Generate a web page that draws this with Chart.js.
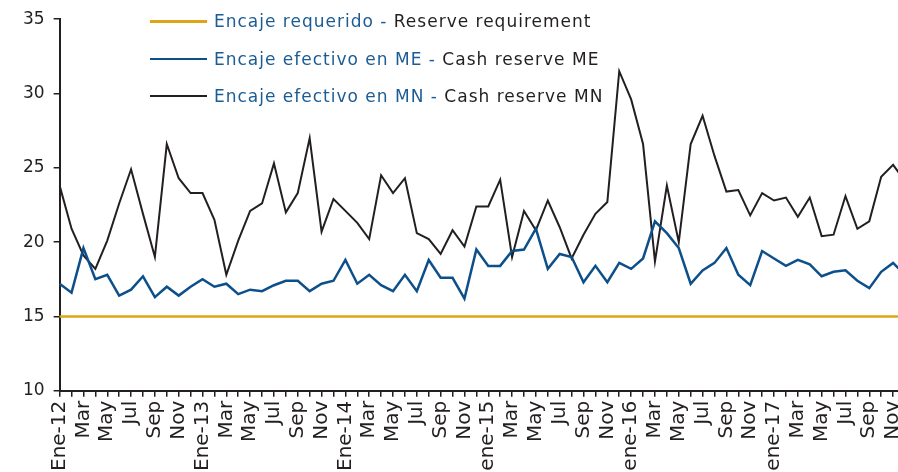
<!DOCTYPE html>
<html>
<head>
<meta charset="utf-8">
<script src="https://cdn.jsdelivr.net/npm/chart.js@4.4.1/dist/chart.umd.min.js"></script>
<style>
  body { margin: 0; overflow: hidden; background: #fff; }
  #wrap { position: relative; width: 933px; height: 475px; }
  .legend { position: absolute; left: 150px; top: 0; font-family: 'DejaVu Sans', sans-serif; font-size: 17px; letter-spacing: 1px; white-space: nowrap; }
  .legend .row { position: absolute; left: 0; height: 20px; display: flex; align-items: center; }
  .legend .swatch { display: inline-block; width: 57px; margin-right: 7px; }
  .legend .es { color: #1b5c94; }
  .legend .en { color: #231f20; }
</style>
</head>
<body>
<div id="wrap">
  <canvas id="chart"></canvas>
  <div class="legend">
    <div class="row" style="top:11px"><span class="swatch" style="height:3px;background:#dfa516"></span><span class="es">Encaje requerido -&nbsp;</span><span class="en">Reserve requirement</span></div>
    <div class="row" style="top:49px"><span class="swatch" style="height:2px;background:#0c4f8a"></span><span class="es">Encaje efectivo en ME -&nbsp;</span><span class="en">Cash reserve ME</span></div>
    <div class="row" style="top:86px"><span class="swatch" style="height:2px;background:#231f20"></span><span class="es">Encaje efectivo en MN -&nbsp;</span><span class="en">Cash reserve MN</span></div>
  </div>
</div>
<script>
// Months Jan-2012 .. Dec-2017 (only every other label is shown)
const months = [
  'Ene-12', 'Feb', 'Mar', 'Abr', 'May', 'Jun', 'Jul', 'Ago', 'Sep', 'Oct', 'Nov', 'Dic',
  'Ene-13', 'Feb', 'Mar', 'Abr', 'May', 'Jun', 'Jul', 'Ago', 'Sep', 'Oct', 'Nov', 'Dic',
  'Ene-14', 'Feb', 'Mar', 'Abr', 'May', 'Jun', 'Jul', 'Ago', 'Sep', 'Oct', 'Nov', 'Dic',
  'ene-15', 'Feb', 'Mar', 'Abr', 'May', 'Jun', 'Jul', 'Ago', 'Sep', 'Oct', 'Nov', 'Dic',
  'ene-16', 'Feb', 'Mar', 'Abr', 'May', 'Jun', 'Jul', 'Ago', 'Sep', 'Oct', 'Nov', 'Dic',
  'ene-17', 'Feb', 'Mar', 'Abr', 'May', 'Jun', 'Jul', 'Ago', 'Sep', 'Oct', 'Nov', 'Dic'
];

// Encaje requerido - Reserve requirement (%)
const requerido = [
  15, 15, 15, 15, 15, 15, 15, 15, 15, 15, 15, 15,
  15, 15, 15, 15, 15, 15, 15, 15, 15, 15, 15, 15,
  15, 15, 15, 15, 15, 15, 15, 15, 15, 15, 15, 15,
  15, 15, 15, 15, 15, 15, 15, 15, 15, 15, 15, 15,
  15, 15, 15, 15, 15, 15, 15, 15, 15, 15, 15, 15,
  15, 15, 15, 15, 15, 15, 15, 15, 15, 15, 15, 15
];

// Encaje efectivo en ME - Cash reserve ME (%)
const efectivoME = [
  17.2, 16.6, 19.6, 17.5, 17.8, 16.4, 16.8, 17.7, 16.3, 17.0, 16.4, 17.0,
  17.5, 17.0, 17.2, 16.5, 16.8, 16.7, 17.1, 17.4, 17.4, 16.7, 17.2, 17.4,
  18.8, 17.2, 17.8, 17.1, 16.7, 17.8, 16.7, 18.8, 17.6, 17.6, 16.2, 19.5,
  18.4, 18.4, 19.4, 19.5, 20.9, 18.2, 19.2, 19.0, 17.3, 18.4, 17.3, 18.6,
  18.2, 18.9, 21.4, 20.6, 19.6, 17.2, 18.1, 18.6, 19.6, 17.8, 17.1, 19.4,
  18.9, 18.4, 18.8, 18.5, 17.7, 18.0, 18.1, 17.4, 16.9, 18.0, 18.6, 17.8
];

// Encaje efectivo en MN - Cash reserve MN (%)
const efectivoMN = [
  23.8, 20.9, 19.1, 18.2, 20.1, 22.6, 24.9, 21.9, 19.0, 26.6, 24.3, 23.3,
  23.3, 21.5, 17.8, 20.1, 22.1, 22.6, 25.3, 22.0, 23.3, 27.0, 20.7, 22.9,
  22.1, 21.3, 20.2, 24.5, 23.3, 24.3, 20.6, 20.2, 19.2, 20.8, 19.7, 22.4,
  22.4, 24.2, 19.0, 22.1, 20.8, 22.8, 21.0, 18.9, 20.5, 21.9, 22.7, 31.5,
  29.6, 26.6, 18.7, 23.8, 20.0, 26.6, 28.5, 25.8, 23.4, 23.5, 21.8, 23.3,
  22.8, 23.0, 21.7, 23.0, 20.4, 20.5, 23.1, 20.9, 21.4, 24.4, 25.2, 24.1
];

const axisColor = '#231f20';
const fontFamily = "'DejaVu Sans', sans-serif";

const ctx = document.getElementById('chart').getContext('2d');
new Chart(ctx, {
    type: 'line',
    data: {
        labels: months,
        datasets: [
            {
                label: 'Encaje requerido - Reserve requirement',
                data: requerido,
                borderColor: '#dfa516',
                borderWidth: 2.5,
                pointRadius: 0,
                tension: 0
            },
            {
                label: 'Encaje efectivo en ME - Cash reserve ME',
                data: efectivoME,
                borderColor: '#0c4f8a',
                borderWidth: 2.5,
                pointRadius: 0,
                tension: 0
            },
            {
                label: 'Encaje efectivo en MN - Cash reserve MN',
                data: efectivoMN,
                borderColor: '#231f20',
                borderWidth: 2,
                pointRadius: 0,
                tension: 0
            }
        ]
    },
    options: {
        responsive: true,
        maintainAspectRatio: false,
        animation: false,
        layout: { padding: { left: 14, top: 3, right: 0, bottom: 0 } },
        plugins: {
            legend: { display: false },
            tooltip: { enabled: false }
        },
        scales: {
            x: {
                grid: { drawOnChartArea: false, drawTicks: true, tickLength: 6, color: axisColor, lineWidth: 1.5 },
                border: { display: true, color: axisColor, width: 2 },
                ticks: {
                    autoSkip: false,
                    maxRotation: 90,
                    minRotation: 90,
                    padding: 4,
                    color: axisColor,
                    font: { family: fontFamily, size: 20 },
                    callback: function (value, index) {
                        return index % 2 === 0 ? this.getLabelForValue(value) : '';
                    }
                }
            },
            y: {
                min: 10,
                max: 35,
                grid: { drawOnChartArea: false, drawTicks: true, tickLength: 6, color: axisColor, lineWidth: 1.5 },
                border: { display: true, color: axisColor, width: 2 },
                ticks: {
                    stepSize: 5,
                    padding: 9,
                    color: axisColor,
                    font: { family: fontFamily, size: 17 }
                }
            }
        }
    }
});
</script>
</body>
</html>
